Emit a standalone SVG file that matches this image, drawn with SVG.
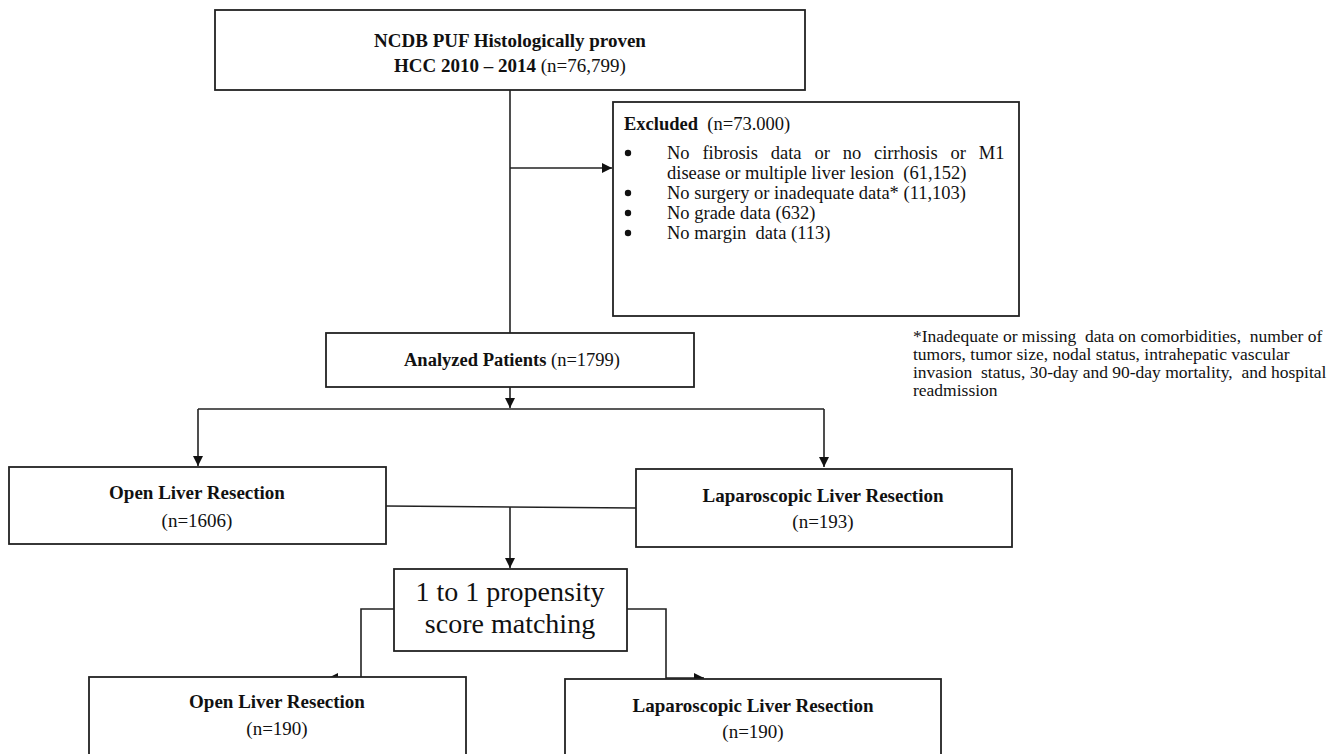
<svg xmlns="http://www.w3.org/2000/svg" width="1339" height="754" viewBox="0 0 1339 754">
<style>
.box{fill:#fff;stroke:#222;stroke-width:1.8}
.ln{fill:none;stroke:#222;stroke-width:1.6}
text{font-family:"Liberation Serif","Times New Roman",serif;fill:#111}
.b{font-weight:bold}
.n{font-size:19px;text-anchor:middle}
.ex{font-size:18.5px}
.fn{font-size:17.5px}
</style>
<defs>
<marker id="ah" markerUnits="userSpaceOnUse" markerWidth="12" markerHeight="10" refX="10" refY="5" orient="auto">
<path d="M0,0 L10,5 L0,10 Z" fill="#111"/>
</marker>
</defs>
<rect width="1339" height="754" fill="#fff"/>
<g id="connectors">
<path class="ln" d="M510,90 V333"/>
<path class="ln" d="M510,168 H612" marker-end="url(#ah)"/>
<path class="ln" d="M510,387 V408" marker-end="url(#ah)"/>
<path class="ln" d="M198,409 H824"/>
<path class="ln" d="M198,409 V466" marker-end="url(#ah)"/>
<path class="ln" d="M824,409 V467" marker-end="url(#ah)"/>
<path class="ln" d="M386,506 L636,508"/>
<path class="ln" d="M510,507 V568" marker-end="url(#ah)"/>
<path class="ln" d="M394,609 H361 V678 H328" marker-end="url(#ah)"/>
<path class="ln" d="M627,609 H666 V678 H704" marker-end="url(#ah)"/>
</g>
<g id="n-source">
<rect class="box" x="215" y="10" width="590" height="80"/>
<text class="n b" x="510" y="47">NCDB PUF Histologically proven</text>
<text class="n" x="510" y="72"><tspan class="b">HCC 2010 – 2014</tspan> (n=76,799)</text>
</g>
<g id="n-excluded">
<rect class="box" x="613" y="102" width="406" height="214"/>
<text class="ex" x="624" y="130" xml:space="preserve"><tspan class="b">Excluded</tspan>  (n=73.000)</text>
<circle cx="628" cy="153" r="3.2" fill="#111"/>
<circle cx="628" cy="193" r="3.2" fill="#111"/>
<circle cx="628" cy="213" r="3.2" fill="#111"/>
<circle cx="628" cy="233" r="3.2" fill="#111"/>
<text class="ex" x="667" y="159" style="word-spacing:8.2px">No fibrosis data or no cirrhosis or M1</text>
<text class="ex" x="667" y="179" xml:space="preserve">disease or multiple liver lesion  (61,152)</text>
<text class="ex" x="667" y="199">No surgery or inadequate data* (11,103)</text>
<text class="ex" x="667" y="219">No grade data (632)</text>
<text class="ex" x="667" y="239" xml:space="preserve">No margin  data (113)</text>
</g>
<g id="n-footnote">
<text class="fn" x="913" y="342" xml:space="preserve">*Inadequate or missing  data on comorbidities,  number of</text>
<text class="fn" x="913" y="360">tumors, tumor size, nodal status, intrahepatic vascular</text>
<text class="fn" x="913" y="378" xml:space="preserve">invasion  status, 30-day and 90-day mortality,  and hospital</text>
<text class="fn" x="913" y="396">readmission</text>
</g>
<g id="n-analyzed">
<rect class="box" x="326" y="333" width="368" height="54"/>
<text class="n" x="512" y="366" style="font-size:18.5px"><tspan class="b">Analyzed Patients</tspan> (n=1799)</text>
</g>
<g id="n-open1">
<rect class="box" x="9" y="467" width="377" height="77"/>
<text class="n b" x="197" y="499">Open Liver Resection</text>
<text class="n" x="197" y="527">(n=1606)</text>
</g>
<g id="n-lap1">
<rect class="box" x="636" y="469" width="376" height="78"/>
<text class="n b" x="823" y="502">Laparoscopic Liver Resection</text>
<text class="n" x="823" y="528">(n=193)</text>
</g>
<g id="n-psm">
<rect class="box" x="394" y="569" width="233" height="82"/>
<text x="510" y="601" style="font-size:28px;text-anchor:middle">1 to 1 propensity</text>
<text x="510" y="633" style="font-size:28px;text-anchor:middle">score matching</text>
</g>
<g id="n-open2">
<rect class="box" x="89" y="677" width="377" height="90"/>
<text class="n b" x="277" y="708">Open Liver Resection</text>
<text class="n" x="277" y="735">(n=190)</text>
</g>
<g id="n-lap2">
<rect class="box" x="565" y="679" width="376" height="90"/>
<text class="n b" x="753" y="712">Laparoscopic Liver Resection</text>
<text class="n" x="753" y="738">(n=190)</text>
</g>
</svg>
